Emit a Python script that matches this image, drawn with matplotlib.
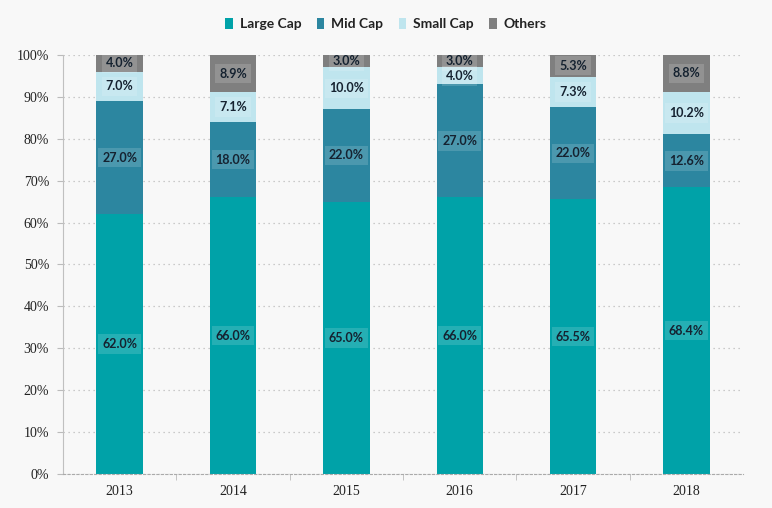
import numpy as np
import matplotlib.pyplot as plt
from matplotlib.ticker import FuncFormatter

years = ["2013", "2014", "2015", "2016", "2017", "2018"]
large_cap = [62.0, 66.0, 65.0, 66.0, 65.5, 68.4]
mid_cap = [27.0, 18.0, 22.0, 27.0, 22.0, 12.6]
small_cap = [7.0, 7.1, 10.0, 4.0, 7.3, 10.2]
others = [4.0, 8.9, 3.0, 3.0, 5.3, 8.8]

series = [
    ("Large Cap", large_cap, "#00A2A8"),
    ("Mid Cap", mid_cap, "#2C86A0"),
    ("Small Cap", small_cap, "#BFE5EE"),
    ("Others", others, "#7F7F7F"),
]

fig = plt.figure(figsize=(7.72, 5.08), dpi=100)
fig.patch.set_facecolor("#F8F8F8")
ax = fig.add_axes([0.0816, 0.067, 0.881, 0.825])
ax.set_facecolor("#F8F8F8")

x = np.arange(len(years))
bottom = np.zeros(len(years))
for name, vals, color in series:
    vals = np.array(vals)
    ax.bar(x, vals, 0.41, bottom=bottom, color=color, label=name, zorder=2)
    for xi, b, v in zip(x, bottom, vals):
        ax.text(xi, b + v / 2, f"{v:.1f}%", ha="center", va="center",
                fontsize=9, fontweight="bold", color="#152230", family="Lato", zorder=3,
                bbox=dict(boxstyle="square,pad=0.3", fc="white", ec="none", alpha=0.15))
    bottom += vals

ax.set_xlim(-0.5, 5.5)
ax.set_ylim(0, 100)
ax.set_yticks(np.arange(0, 101, 10))
ax.yaxis.set_major_formatter(FuncFormatter(lambda v, p: f"{v:.0f}%"))
ax.set_xticks(x)
ax.set_xticklabels(years)
ax.set_xticks(x[:-1] + 0.5, minor=True)
ax.tick_params(axis="x", which="major", length=0, pad=8)
ax.tick_params(axis="x", which="minor", length=4, color="#BBBBBB")
ax.tick_params(axis="y", length=4, color="#BBBBBB", pad=6)
for lbl in ax.get_xticklabels() + ax.get_yticklabels():
    lbl.set_family("Liberation Serif")
    lbl.set_fontsize(10)
    lbl.set_color("#222222")

ax.grid(axis="y", linestyle=(0, (1, 3)), color="#BBBBBB", linewidth=0.9, zorder=0)
for s in ["top", "right"]:
    ax.spines[s].set_visible(False)
ax.spines["left"].set_color("#C0C0C0")
ax.spines["bottom"].set_color("#AAAAAA")
ax.spines["bottom"].set_linestyle((0, (2, 2)))

fig.legend(loc="upper center", bbox_to_anchor=(0.5, 0.99), ncol=4, frameon=False,
           handlelength=0.55, handleheight=0.9, handletextpad=0.5, columnspacing=1.1,
           prop={"family": "Lato", "size": 10, "weight": "bold"}, labelcolor="#222222")

plt.savefig("out.png", dpi=100, facecolor=fig.get_facecolor())
